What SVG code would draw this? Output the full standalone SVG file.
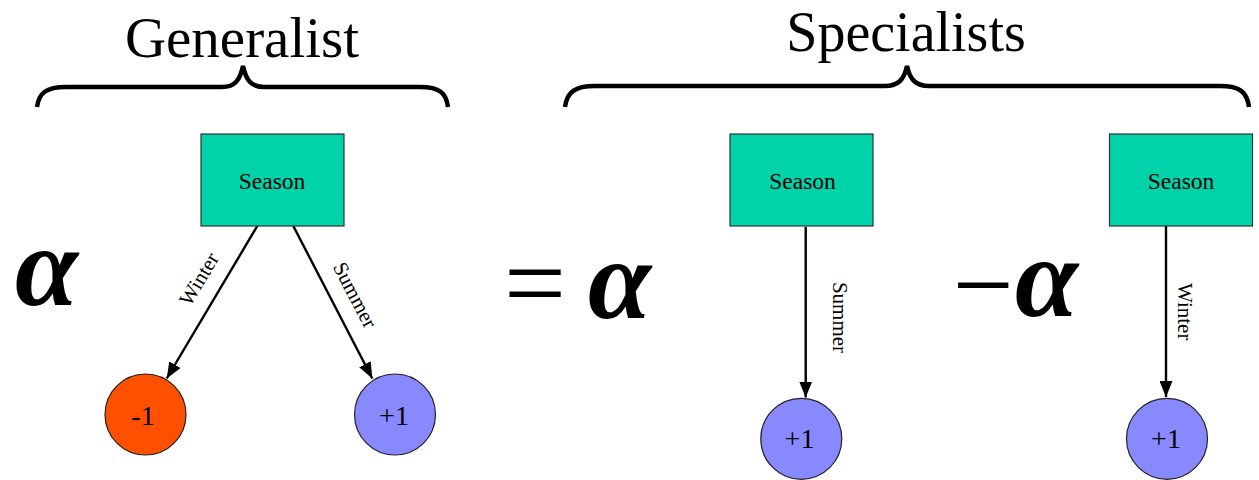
<svg xmlns="http://www.w3.org/2000/svg" width="1259" height="480" viewBox="0 0 1259 480">
<defs>
<style>
.box{fill:#00d2aa;stroke:#333;stroke-width:1.2}
.neg{fill:#ff5000;stroke:#222;stroke-width:1.2}
.pos{fill:#8888ff;stroke:#222;stroke-width:1.2}
.t{font-family:"Liberation Serif","Times New Roman",serif;fill:#000}
.node{font-size:23.5px;text-anchor:middle}
.val{font-size:28px;text-anchor:middle}
.lbl{font-size:21px;text-anchor:middle;dominant-baseline:central}
.head{font-size:57px;text-anchor:middle}
.alpha{font-size:114px;font-style:italic;font-weight:bold}
.brace{fill:none;stroke:#000;stroke-width:4.5;stroke-linecap:butt}
.edge{stroke:#000;stroke-width:2.4;fill:none}
</style>
<marker id="ah" markerUnits="userSpaceOnUse" markerWidth="16" markerHeight="13" refX="16" refY="6.5" orient="auto">
<path d="M0,0 L16,6.5 L0,13 z" fill="#000"/>
</marker>
</defs>
<rect width="1259" height="480" fill="#fff"/>

<g id="headings">
<text class="t head" x="242" y="57">Generalist</text>
<text class="t head" x="906" y="51" style="font-size:56px">Specialists</text>
<path class="brace" d="M37,107 C39,93 46,87 66,87 L222,87 C235,87 240,80 243,66 C246,80 251,87 264,87 L420,87 C440,87 446,93 448,107"/>
<path class="brace" d="M565,107 C567,92 575,86 595,86 L885,86 C898,86 904,80 907,66 C910,80 916,86 929,86 L1220,86 C1240,86 1247,92 1249,107"/>
</g>

<g id="math">
<text class="t alpha" x="15" y="305">α</text>
<text class="t" x="535" y="320" font-size="110" text-anchor="middle">=</text>
<text class="t alpha" x="588" y="318">α</text>
<text class="t" x="983" y="321" font-size="108" text-anchor="middle">−</text>
<text class="t alpha" x="1015" y="316">α</text>
</g>

<g id="connectors">
<line class="edge" x1="257.3" y1="226" x2="166.7" y2="378.5" marker-end="url(#ah)"/>
<line class="edge" x1="293.3" y1="226" x2="372.3" y2="378.5" marker-end="url(#ah)"/>
<line class="edge" x1="805.7" y1="227" x2="805.7" y2="397.5" marker-end="url(#ah)"/>
<line class="edge" x1="1166" y1="226" x2="1166" y2="397" marker-end="url(#ah)"/>
<text class="t lbl" transform="translate(199,279) rotate(-59.3)">Winter</text>
<text class="t lbl" transform="translate(355,295) rotate(62.6)">Summer</text>
<text class="t lbl" transform="translate(840,317.5) rotate(90)">Summer</text>
<text class="t lbl" transform="translate(1185,311.7) rotate(90)">Winter</text>
</g>

<g id="gen-season">
<rect class="box" x="201" y="134" width="143" height="92"/>
<text class="t node" x="272" y="189">Season</text>
</g>
<g id="gen-neg">
<circle class="neg" cx="145.5" cy="414.5" r="40.5"/>
<text class="t val" x="143" y="425">-1</text>
</g>
<g id="gen-pos">
<circle class="pos" cx="395" cy="414.5" r="40.5"/>
<text class="t val" x="394" y="425">+1</text>
</g>

<g id="spec1-season">
<rect class="box" x="730" y="134" width="143" height="92"/>
<text class="t node" x="802.5" y="189">Season</text>
</g>
<g id="spec1-pos">
<circle class="pos" cx="801.3" cy="438.8" r="40.5"/>
<text class="t val" x="799.5" y="448">+1</text>
</g>

<g id="spec2-season">
<rect class="box" x="1109.5" y="134" width="143" height="92"/>
<text class="t node" x="1181" y="189">Season</text>
</g>
<g id="spec2-pos">
<circle class="pos" cx="1167" cy="438.8" r="40.5"/>
<text class="t val" x="1166" y="448">+1</text>
</g>
</svg>
